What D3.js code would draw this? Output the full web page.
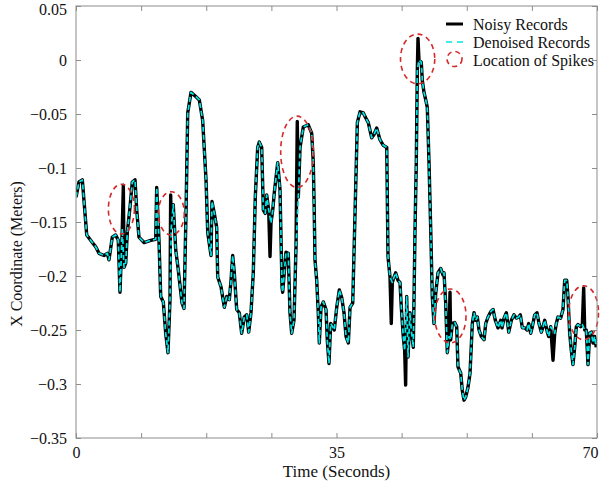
<!DOCTYPE html>
<html>
<head>
<meta charset="utf-8">
<script src="https://cdn.jsdelivr.net/npm/d3@7/dist/d3.min.js"></script>
<style>
  body { margin: 0; background: #fff; }
  svg text { font-family: "Liberation Serif", "Times New Roman", serif; fill: #111; }
</style>
</head>
<body>
<svg id="chart" width="600" height="484"></svg>
<script>
'use strict';

// denoised trace: time (s) and x coordinate (m)
const times = [0, 0.40, 0.85, 1.07, 1.44, 2.19, 2.65, 3.09, 3.76, 4.21, 4.43, 4.88, 5.33, 5.68, 5.91, 6.22, 6.45, 6.68, 6.89, 7.26,
  7.56, 7.93, 8.16, 8.46, 9.14, 10.04, 10.71, 10.84, 11.15, 11.38, 11.73, 12.05, 12.36, 12.63, 12.80, 13.07, 13.40, 13.70, 14.24, 14.51,
  14.78, 15.01, 15.45, 16.12, 16.57, 17.02, 17.47, 17.70, 18.14, 18.27, 18.58, 18.90, 19.04, 19.48, 19.93, 20.25, 20.60, 20.83, 21.05, 21.27,
  21.59, 21.94, 22.26, 22.61, 22.94, 23.20, 23.51, 23.82, 24.09, 24.41, 24.63, 24.95, 25.17, 25.43, 25.62, 25.89, 26.20, 26.43, 26.64, 27.10,
  27.41, 27.68, 27.77, 28.21, 28.52, 28.75, 28.98, 29.29, 29.56, 29.87, 30.10, 30.54, 31.21, 31.67, 31.88, 32.11, 32.34, 32.55, 32.69, 32.92,
  33.23, 33.59, 33.76, 33.99, 34.22, 34.49, 34.70, 35.03, 35.38, 35.70, 36.01, 36.28, 36.59, 36.82, 37.18, 37.49, 37.80, 38.16, 38.60, 38.96,
  39.27, 39.73, 40.04, 40.40, 40.85, 41.29, 41.75, 41.92, 42.19, 42.50, 42.73, 42.95, 43.26, 43.53, 43.71, 43.97, 44.16, 44.43, 44.61, 44.87,
  45.05, 45.32, 45.55, 45.72, 45.86, 46.08, 46.39, 46.53, 46.76, 46.99, 47.20, 47.43, 47.66, 47.87, 48.10, 48.33, 48.64, 49.00, 49.31, 49.44,
  49.67, 49.89, 50.12, 50.34, 50.56, 50.88, 51.15, 51.32, 51.69, 51.90, 52.13, 52.36, 52.67, 52.94, 53.25, 53.48, 53.70, 53.92, 54.15, 54.46,
  54.82, 55.05, 55.36, 55.72, 56.03, 56.34, 56.70, 57.06, 57.24, 57.51, 57.82, 58.14, 58.49, 58.85, 59.16, 59.48, 59.70, 59.97, 60.29, 60.60,
  60.83, 61.09, 61.31, 61.63, 61.94, 62.21, 62.52, 62.75, 62.98, 63.33, 63.51, 63.78, 64.32, 64.53, 64.76, 65.12, 65.43, 65.66, 65.93, 66.10,
  66.33, 66.55, 66.77, 67.00, 67.22, 67.45, 67.81, 68.03, 68.35, 68.56, 68.79, 69.02, 69.24, 69.46, 69.69, 69.90];
const denoised = [-0.127, -0.113, -0.111, -0.130, -0.162, -0.169, -0.173, -0.179, -0.181, -0.179, -0.185, -0.164, -0.162, -0.167, -0.215, -0.156, -0.192, -0.188, -0.160, -0.136,
  -0.113, -0.111, -0.139, -0.164, -0.169, -0.167, -0.166, -0.118, -0.167, -0.219, -0.224, -0.253, -0.271, -0.222, -0.155, -0.134, -0.176, -0.192, -0.225, -0.230,
  -0.142, -0.049, -0.030, -0.034, -0.037, -0.056, -0.111, -0.160, -0.181, -0.131, -0.142, -0.155, -0.201, -0.210, -0.229, -0.219, -0.222, -0.204, -0.181, -0.197,
  -0.231, -0.234, -0.253, -0.238, -0.236, -0.252, -0.234, -0.197, -0.127, -0.081, -0.076, -0.081, -0.139, -0.142, -0.125, -0.139, -0.151, -0.139, -0.123, -0.095,
  -0.120, -0.210, -0.215, -0.178, -0.179, -0.234, -0.253, -0.241, -0.173, -0.127, -0.081, -0.062, -0.060, -0.068, -0.095, -0.185, -0.204, -0.234, -0.262, -0.229,
  -0.224, -0.231, -0.259, -0.281, -0.244, -0.247, -0.250, -0.229, -0.213, -0.220, -0.234, -0.256, -0.262, -0.229, -0.225, -0.142, -0.058, -0.048, -0.049, -0.054,
  -0.058, -0.072, -0.069, -0.063, -0.074, -0.079, -0.081, -0.182, -0.201, -0.206, -0.201, -0.197, -0.204, -0.206, -0.229, -0.256, -0.269, -0.219, -0.275, -0.234,
  -0.250, -0.266, -0.157, -0.095, -0.009, 0.000, -0.002, -0.019, -0.030, -0.037, -0.044, -0.095, -0.157, -0.219, -0.244, -0.216, -0.197, -0.193, -0.199, -0.197,
  -0.225, -0.271, -0.256, -0.259, -0.244, -0.243, -0.247, -0.284, -0.290, -0.306, -0.315, -0.312, -0.303, -0.290, -0.244, -0.234, -0.241, -0.238, -0.250, -0.256,
  -0.259, -0.244, -0.238, -0.233, -0.231, -0.241, -0.248, -0.241, -0.248, -0.239, -0.234, -0.252, -0.241, -0.236, -0.239, -0.238, -0.236, -0.248, -0.248, -0.250,
  -0.244, -0.253, -0.247, -0.236, -0.234, -0.244, -0.252, -0.247, -0.241, -0.252, -0.256, -0.247, -0.253, -0.244, -0.238, -0.239, -0.231, -0.204, -0.204, -0.219,
  -0.253, -0.269, -0.282, -0.266, -0.247, -0.245, -0.247, -0.245, -0.250, -0.250, -0.282, -0.253, -0.252, -0.262, -0.256, -0.266];

// extra samples that only the noisy record has (the spikes)
const spikeTimes = [6.36, 12.72, 26.07, 29.73, 32.00, 42.36, 44.29, 45.95, 50.25, 64.09, 68.21];
const spikeValues = [-0.116, -0.125, -0.182, -0.057, -0.136, -0.244, -0.301, 0.020, -0.215, -0.278, -0.211];

// red dashed ellipses marking the spikes: centre and half sizes in data units
const markTimes = [6.1, 12.8, 29.7, 45.9, 50.3, 68.2];
const markValues = [-0.138, -0.142, -0.085, 0.001, -0.237, -0.234];
const markHalfT = [1.75, 1.75, 2.2, 2.3, 2.1, 2.0];
const markHalfV = [0.023, 0.020, 0.033, 0.023, 0.025, 0.025];

const yTicks = [0.05, 0, -0.05, -0.1, -0.15, -0.2, -0.25, -0.3, -0.35];
const xTicks = [0, 8.75, 17.5, 26.25, 35, 43.75, 52.5, 61.25, 70];
const xLabelled = [0, 35, 70];
const legendLabels = ['Noisy Records', 'Denoised Records', 'Location of Spikes'];

const cyan = '#00e6e6';
const spikeRed = '#d42a2a';
const frameGrey = '#8c8c8c';

const margin = { left: 76, right: 3, top: 6, bottom: 46 };
const width = 600 - margin.left - margin.right;
const height = 484 - margin.top - margin.bottom;

const svg = d3.select('#chart');
const g = svg.append('g').attr('transform', `translate(${margin.left},${margin.top})`);

const x = d3.scaleLinear().domain([0, 70]).range([0, width]);
const y = d3.scaleLinear().domain([-0.35, 0.05]).range([height, 0]);

const denoisedPts = times.map((t, i) => [t, denoised[i]]);
const noisyPts = denoisedPts
  .concat(spikeTimes.map((t, i) => [t, spikeValues[i]]))
  .sort((a, b) => a[0] - b[0]);

const line = d3.line().x(d => x(d[0])).y(d => y(d[1]));

g.append('defs').append('clipPath').attr('id', 'clip')
  .append('rect').attr('width', width).attr('height', height);

const plot = g.append('g').attr('clip-path', 'url(#clip)');

plot.append('path')
  .datum(noisyPts)
  .attr('d', line)
  .attr('fill', 'none')
  .attr('stroke', '#000')
  .attr('stroke-width', 3.4)
  .attr('stroke-linejoin', 'round');

plot.append('path')
  .datum(denoisedPts)
  .attr('d', line)
  .attr('fill', 'none')
  .attr('stroke', cyan)
  .attr('stroke-width', 1.7)
  .attr('stroke-dasharray', '5,3')
  .attr('stroke-linejoin', 'round');

// spike markers (may poke slightly over the frame like in the original)
g.selectAll('ellipse.mark')
  .data(markTimes)
  .enter()
  .append('ellipse')
  .attr('class', 'mark')
  .attr('cx', d => x(d))
  .attr('cy', (d, i) => y(markValues[i]))
  .attr('rx', (d, i) => x(markHalfT[i]) - x(0))
  .attr('ry', (d, i) => y(0) - y(markHalfV[i]))
  .attr('fill', 'none')
  .attr('stroke', spikeRed)
  .attr('stroke-width', 1.6)
  .attr('stroke-dasharray', '5,4');

// axes: box with inward ticks on all four sides
const fmtY = d => d === 0 ? '0' : String(d).replace('-', '\u2212');

const axisStyle = sel => {
  sel.select('.domain').remove();
  sel.selectAll('.tick line').attr('stroke', frameGrey);
  sel.selectAll('.tick text')
    .attr('font-size', 16)
    .attr('fill', '#111');
};

const yAxis = g.append('g')
  .call(d3.axisLeft(y).tickValues(yTicks).tickSize(-5).tickPadding(9).tickFormat(fmtY))
  .call(axisStyle);
// keep the top label inside the picture
yAxis.selectAll('.tick text').filter(d => d === 0.05).attr('dy', '0.55em');

g.append('g')
  .attr('transform', `translate(${width},0)`)
  .call(d3.axisRight(y).tickValues(yTicks).tickSize(-5).tickFormat(''))
  .call(axisStyle);

const xAxis = g.append('g')
  .attr('transform', `translate(0,${height})`)
  .call(d3.axisBottom(x).tickValues(xTicks).tickSize(-5).tickPadding(9)
    .tickFormat(d => xLabelled.includes(d) ? d : ''))
  .call(axisStyle);
xAxis.selectAll('.tick text').filter(d => d === 70)
  .attr('text-anchor', 'end').attr('dx', 1);

g.append('g')
  .call(d3.axisTop(x).tickValues(xTicks).tickSize(-5).tickFormat(''))
  .call(axisStyle);

g.append('rect')
  .attr('width', width)
  .attr('height', height)
  .attr('fill', 'none')
  .attr('stroke', frameGrey)
  .attr('stroke-width', 1);

// axis titles
svg.append('text')
  .attr('x', margin.left + x(35))
  .attr('y', 477)
  .attr('text-anchor', 'middle')
  .attr('font-size', 17)
  .text('Time (Seconds)');

svg.append('text')
  .attr('transform', 'translate(22,254) rotate(-90)')
  .attr('text-anchor', 'middle')
  .attr('font-size', 16)
  .text('X Coordinate (Meters)');

// legend
const legend = svg.append('g').attr('transform', 'translate(446,24)');
const rowGap = 18;

legend.append('line')
  .attr('x1', 0).attr('x2', 17).attr('y1', 0).attr('y2', 0)
  .attr('stroke', '#000').attr('stroke-width', 3);

legend.append('line')
  .attr('x1', 0).attr('x2', 17).attr('y1', rowGap).attr('y2', rowGap)
  .attr('stroke', cyan).attr('stroke-width', 1.6)
  .attr('stroke-dasharray', '6,5');

legend.append('ellipse')
  .attr('cx', 8.5).attr('cy', rowGap * 2 - 1)
  .attr('rx', 7.5).attr('ry', 7.5)
  .attr('fill', 'none')
  .attr('stroke', spikeRed).attr('stroke-width', 1.6)
  .attr('stroke-dasharray', '5,4');

legend.selectAll('text')
  .data(legendLabels)
  .enter()
  .append('text')
  .attr('x', 27)
  .attr('y', (d, i) => i * rowGap + 5.5)
  .attr('font-size', 16)
  .text(d => d);
</script>
</body>
</html>
